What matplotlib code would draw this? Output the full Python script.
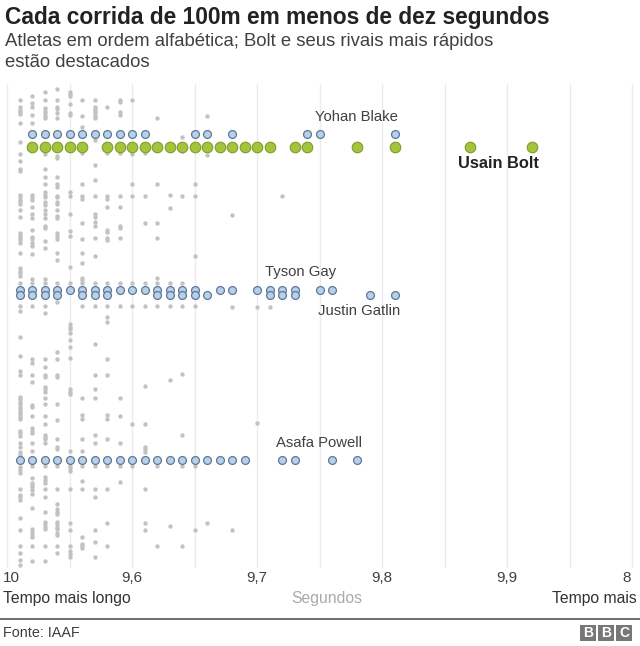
import numpy as np
import matplotlib.pyplot as plt
from matplotlib.patches import Rectangle

plt.rcParams['font.family'] = ['Liberation Sans', 'DejaVu Sans']

# tempos (s) e posição da linha de cada atleta (ordem alfabética, de cima p/ baixo)
tempos_cinza = [9.99, 9.98, 9.97, 9.96, 9.95, 9.94, 9.93, 9.92, 9.91,
                9.90, 9.89, 9.88, 9.87, 9.86, 9.85, 9.84]
c999 = [100, 107, 110, 112, 114, 123, 142, 154, 161, 169, 171, 195, 197, 200, 202, 204, 210,
        217, 233, 236, 238, 240, 243, 253, 268, 271, 273, 276, 283, 306, 311, 337, 356, 371,
        375, 397, 399, 402, 404, 407, 409, 412, 414, 417, 419, 431, 433, 436, 443, 447, 452,
        455, 467, 470, 473, 489, 495, 497, 500, 518, 530, 546, 553, 560, 565]
c998 = [96, 103, 107, 115, 123, 195, 197, 200, 207, 214, 218, 230, 237, 239, 243, 246, 254,
        279, 283, 306, 359, 363, 375, 382, 405, 407, 416, 428, 431, 433, 443, 451, 466, 478,
        483, 485, 487, 490, 494, 508, 529, 532, 535, 537, 546, 561]
c997 = [92, 100, 108, 111, 113, 116, 118, 154, 169, 177, 184, 192, 195, 197, 202, 205, 210,
        214, 218, 226, 228, 241, 248, 279, 283, 306, 313, 359, 367, 375, 377, 387, 389, 392,
        398, 404, 416, 424, 435, 437, 439, 443, 466, 477, 480, 483, 489, 497, 512, 522, 524,
        527, 529, 546, 561]
c996 = [89, 100, 107, 109, 113, 118, 156, 158, 177, 184, 187, 196, 197, 202, 204, 210, 216,
        218, 233, 236, 239, 253, 260, 283, 302, 352, 359, 375, 377, 404, 420, 439, 447, 449,
        466, 489, 504, 509, 512, 514, 522, 524, 527, 529, 533, 535, 546, 553]
c995 = [92, 94, 96, 104, 113, 115, 192, 196, 214, 231, 236, 267, 283, 324, 327, 329, 333,
        340, 347, 358, 389, 392, 394, 451, 466, 468, 471, 489, 523, 530, 546, 551, 554, 557]
c994 = [100, 116, 127, 153, 184, 196, 199, 223, 239, 253, 263, 278, 280, 283, 306, 398, 415,
        419, 439, 451, 466, 481, 489, 537, 544, 546, 548]
c993 = [100, 107, 109, 111, 113, 116, 118, 140, 165, 180, 196, 214, 217, 222, 226, 238,
        256, 283, 306, 344, 375, 389, 398, 435, 443, 466, 489, 497, 530, 542, 557]
c992 = [107, 153, 196, 199, 207, 230, 232, 238, 240, 283, 306, 317, 322, 359, 375, 415, 419,
        439, 466, 489, 523, 546]
c991 = [100, 102, 112, 115, 153, 196, 207, 226, 228, 238, 283, 306, 398, 416, 443, 466, 482]
c990 = [100, 154, 184, 196, 283, 306, 424, 466]
c989 = [153, 196, 223, 283, 306, 386, 424, 447, 449, 452, 489, 523, 530]
c988 = [118, 184, 223, 238, 278, 283, 306, 466, 546]
c987 = [195, 208, 283, 306, 380, 526]
c986 = [137, 151, 196, 283, 306, 374, 435, 466, 546]
c985 = [184, 196, 256, 306, 466, 530]
c984 = [116, 155, 523]
linhas_cinza = [c999, c998, c997, c996, c995, c994, c993, c992, c991,
                c990, c989, c988, c987, c986, c985, c984]
tempos_extra = [9.82, 9.82, 9.82, 9.80, 9.80, 9.79, 9.78]
linhas_extra = [215, 307, 530, 307, 423, 307, 196]

blake = [9.98, 9.97, 9.96, 9.95, 9.94, 9.93, 9.92, 9.91, 9.90, 9.89, 9.85, 9.84, 9.82,
         9.76, 9.75, 9.69]
bolt = [9.98, 9.97, 9.96, 9.95, 9.94, 9.92, 9.91, 9.90, 9.89, 9.88, 9.87, 9.86, 9.85,
        9.84, 9.83, 9.82, 9.81, 9.80, 9.79, 9.77, 9.76, 9.72, 9.69, 9.63, 9.58]
gatlin = [9.99, 9.98, 9.97, 9.96, 9.95, 9.94, 9.93, 9.92, 9.91, 9.90, 9.89, 9.88, 9.87,
          9.86, 9.85, 9.83, 9.82, 9.80, 9.79, 9.78, 9.77, 9.75, 9.74]
gay = [9.99, 9.98, 9.97, 9.96, 9.94, 9.93, 9.92, 9.88, 9.87, 9.86, 9.85, 9.84, 9.79,
       9.78, 9.77, 9.71, 9.69]
powell = [9.99, 9.98, 9.97, 9.96, 9.95, 9.94, 9.93, 9.92, 9.91, 9.90, 9.89, 9.88, 9.87,
          9.86, 9.85, 9.84, 9.83, 9.82, 9.81, 9.78, 9.77, 9.74, 9.72]
destaques = [blake, gatlin, gay, powell]
linhas_destaque = [134, 290, 295, 459.5]
linha_bolt = 147

tick_pos = [10.0, 9.9, 9.8, 9.7, 9.6]
tick_txt = ['10', '9,6', '9,7', '9,8', '9,9']

W, H = 640, 646
fig = plt.figure(figsize=(W / 100, H / 100), dpi=100)
ax = fig.add_axes([0, 1 - 568 / H, 1, (568 - 84) / H])
ax.set_xlim(10 + 7 / 1250, 10 - 633 / 1250)
ax.set_ylim(568, 84)
ax.axis('off')

for g in np.arange(10.0, 9.49, -0.05):
    ax.axvline(g, color='#ebebeb', lw=1, zorder=0)

xs, ys = [], []
for t, col in zip(tempos_cinza, linhas_cinza):
    xs += [t] * len(col)
    ys += col
xs += tempos_extra
ys += linhas_extra
ax.scatter(xs, ys, s=10, color='#c2c2c2', lw=0, zorder=2)

for tempos, y in zip(destaques, linhas_destaque):
    ax.scatter(tempos, [y] * len(tempos), s=32, facecolor='#b7cfe8',
               edgecolor='#5d7897', lw=0.9, zorder=3)
ax.scatter(bolt, [linha_bolt] * len(bolt), s=58, facecolor='#a4c43c',
           edgecolor='#809c2a', lw=0.8, zorder=4)

lab = dict(fontsize=10.7, color='#404040', ha='right', va='center')
ax.text(10 - 391 / 1250, 117, 'Yohan Blake', **lab)
ax.text(10 - 532 / 1250, 163, 'Usain Bolt', fontsize=11.8, fontweight='bold',
        color='#222222', ha='right', va='center')
ax.text(10 - 329 / 1250, 272, 'Tyson Gay', **lab)
ax.text(10 - 393 / 1250, 311, 'Justin Gatlin', **lab)
ax.text(10 - 355 / 1250, 443, 'Asafa Powell', **lab)

# rótulos do eixo
for p, s in zip(tick_pos, tick_txt):
    ax.text(p if p != 10.0 else 10 + 4 / 1250, 578, s, fontsize=11, color='#404040',
            ha='left' if p == 10.0 else 'center', va='center', clip_on=False)
ax.text(10 - 620 / 1250, 578, '8', fontsize=11, color='#404040', ha='center',
        va='center', clip_on=False)

fig.text(3 / W, 1 - 598 / H, 'Tempo mais longo', fontsize=11.3, color='#333333', va='center')
fig.text(327 / W, 1 - 598 / H, 'Segundos', fontsize=11.3, color='#aaaaaa', va='center', ha='center')
fig.text(637 / W, 1 - 598 / H, 'Tempo mais', fontsize=11.3, color='#333333', va='center', ha='right')

fig.text(5 / W, 1 - 17.5 / H, 'Cada corrida de 100m em menos de dez segundos', fontsize=16.4,
         fontweight='bold', color='#222222', va='center')
fig.text(5 / W, 1 - 42 / H, 'Atletas em ordem alfabética; Bolt e seus rivais mais rápidos',
         fontsize=13.3, color='#404040', va='center')
fig.text(5 / W, 1 - 62.5 / H, 'estão destacados', fontsize=13.3, color='#404040', va='center')

fig.add_artist(plt.Line2D([0, 1], [1 - 619 / H] * 2, color='#555555', lw=1.2))
fig.text(3 / W, 1 - 633 / H, 'Fonte: IAAF', fontsize=10.4, color='#404040', va='center')

for i, ch in enumerate('BBC'):
    x0 = 580 + i * 18
    fig.add_artist(Rectangle((x0 / W, 1 - 641 / H), 16 / W, 16 / H, color='#777777',
                             transform=fig.transFigure, lw=0))
    fig.text((x0 + 8) / W, 1 - 633 / H, ch, fontsize=10, fontweight='bold',
             color='white', ha='center', va='center')

fig.savefig('out.png', dpi=100)
